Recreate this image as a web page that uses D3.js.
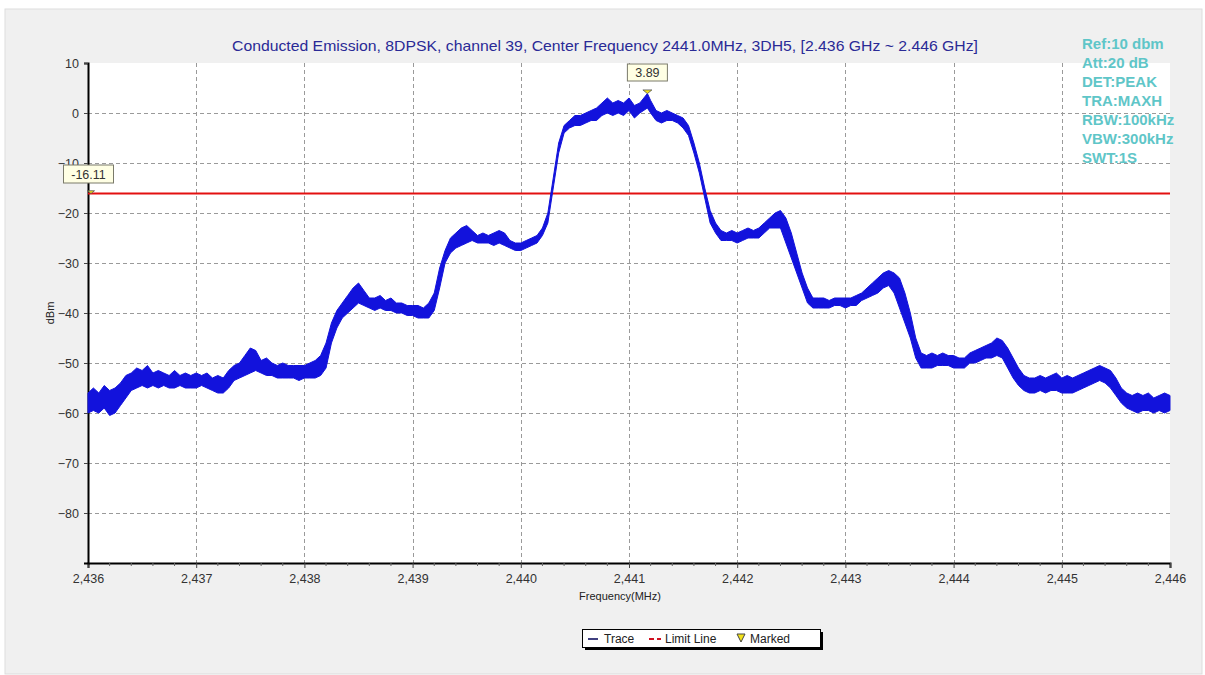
<!DOCTYPE html>
<html><head><meta charset="utf-8">
<script src="https://cdn.jsdelivr.net/npm/d3@7"></script>
<style>
html,body{margin:0;padding:0;background:#fff;}
svg text{font-family:"Liberation Sans",Arial,sans-serif;}
</style></head>
<body>
<svg id="c" width="1205" height="675"></svg>
<script>
// ---- data ----
const titleText = "Conducted Emission, 8DPSK, channel 39, Center Frequency 2441.0MHz, 3DH5, [2.436 GHz ~ 2.446 GHz]";
const infoLines = ["Ref:10 dbm","Att:20 dB","DET:PEAK","TRA:MAXH","RBW:100kHz","VBW:300kHz","SWT:1S"];
const xTicks = [2436,2437,2438,2439,2440,2441,2442,2443,2444,2445,2446];
const yTicks = [10,0,-10,-20,-30,-40,-50,-60,-70,-80];
const freq = [
 2436.00,2436.05,2436.10,2436.15,2436.20,2436.25,2436.30,2436.35,2436.40,2436.45,
 2436.50,2436.55,2436.60,2436.65,2436.70,2436.75,2436.80,2436.85,2436.90,2436.95,
 2437.00,2437.05,2437.10,2437.15,2437.20,2437.25,2437.30,2437.35,2437.40,2437.45,
 2437.50,2437.55,2437.60,2437.65,2437.70,2437.75,2437.80,2437.85,2437.90,2437.95,
 2438.00,2438.05,2438.10,2438.15,2438.20,2438.25,2438.30,2438.35,2438.40,2438.45,
 2438.50,2438.55,2438.60,2438.65,2438.70,2438.75,2438.80,2438.85,2438.90,2438.95,
 2439.00,2439.05,2439.10,2439.15,2439.20,2439.25,2439.30,2439.35,2439.40,2439.45,
 2439.50,2439.55,2439.60,2439.65,2439.70,2439.75,2439.80,2439.85,2439.90,2439.95,
 2440.00,2440.05,2440.10,2440.15,2440.20,2440.25,2440.30,2440.35,2440.40,2440.45,
 2440.50,2440.55,2440.60,2440.65,2440.70,2440.75,2440.80,2440.85,2440.90,2440.95,
 2441.00,2441.05,2441.10,2441.17,2441.20,2441.25,2441.30,2441.35,2441.40,2441.45,
 2441.50,2441.55,2441.60,2441.65,2441.70,2441.75,2441.80,2441.85,2441.90,2441.95,
 2442.00,2442.05,2442.10,2442.15,2442.20,2442.25,2442.30,2442.35,2442.40,2442.45,
 2442.50,2442.55,2442.60,2442.65,2442.70,2442.75,2442.80,2442.85,2442.90,2442.95,
 2443.00,2443.05,2443.10,2443.15,2443.20,2443.25,2443.30,2443.35,2443.40,2443.45,
 2443.50,2443.55,2443.60,2443.65,2443.70,2443.75,2443.80,2443.85,2443.90,2443.95,
 2444.00,2444.05,2444.10,2444.15,2444.20,2444.25,2444.30,2444.35,2444.40,2444.45,
 2444.50,2444.55,2444.60,2444.65,2444.70,2444.75,2444.80,2444.85,2444.90,2444.95,
 2445.00,2445.05,2445.10,2445.15,2445.20,2445.25,2445.30,2445.35,2445.40,2445.45,
 2445.50,2445.55,2445.60,2445.65,2445.70,2445.75,2445.80,2445.85,2445.90,2445.95,2446.00];
const traceHigh = [
 -56,-55,-56,-54.5,-55.5,-55,-54,-52.5,-52,-51,
 -51.5,-50.5,-52,-51.5,-52,-52.5,-51.5,-52.5,-52,-52.5,
 -52,-52.5,-52,-53,-52.5,-53,-51.5,-50.5,-50,-48.5,
 -47,-47.5,-49.5,-49,-50,-50.5,-50,-50.5,-50.5,-50.5,
 -50.5,-50,-49.5,-48.5,-46,-42,-39.5,-38,-36.5,-35,
 -34,-35.5,-37,-37,-36.5,-37.5,-37,-38,-38,-38.5,
 -38.5,-38.5,-39,-38,-36,-31,-27.5,-25,-24,-23,
 -22.5,-23.5,-24.5,-24,-24.5,-24,-23.5,-24,-25.5,-26,
 -26,-25.5,-25,-24.5,-23,-20,-13,-6,-2.5,-1.5,
 -0.5,-0.5,0,0.5,1,2,3,2,2.5,2,
 3,1.5,2,3.89,2.5,0.5,0,0.5,0,-0.5,
 -1,-2.5,-6,-10,-15,-19.5,-22,-23.5,-24,-23.5,
 -24,-23.5,-23,-23.5,-23,-22,-21,-20,-19.5,-21,
 -24,-28,-32,-35,-37,-37,-37,-37.5,-37,-37,
 -37,-37,-36.5,-36,-35,-34,-33,-32,-31.5,-32,
 -33,-36,-40,-45,-48,-48.5,-48,-48.5,-48,-48.5,
 -48.5,-49,-49,-48,-47.5,-47,-46.5,-46,-45,-45.5,
 -47,-49,-51,-52.5,-53,-53,-52.5,-53,-52.5,-52,
 -53,-52.5,-53,-52.5,-52,-51.5,-51,-50.5,-51,-51.5,
 -53,-55,-56,-56.5,-56,-56.5,-56,-57,-56.5,-56,-56.5];
const traceLow = [
 -60,-59.5,-60,-59,-60.5,-60,-58.5,-57,-55.5,-55,
 -54.5,-55,-54.5,-55,-54.5,-55,-55,-54.5,-55,-55,
 -55,-54.5,-55,-55.5,-56,-56,-55,-53.5,-53,-52.5,
 -52,-51.5,-52,-52.5,-52.5,-53,-53,-53,-53,-53.5,
 -53,-53,-53,-52.5,-51,-46,-43,-41,-40,-39,
 -38,-38.5,-39,-39.5,-39,-39.5,-39.5,-40,-40,-40.5,
 -40.5,-41,-41,-41,-39.5,-35,-30,-28,-27,-26.5,
 -26,-25.5,-26,-26,-26,-26.5,-26,-26.5,-27,-27.5,
 -27.5,-27,-26.5,-26,-24.5,-22,-15,-8,-4,-3,
 -2.5,-2.5,-2,-1.5,-1.5,-0.5,0,-0.5,0,-0.5,
 0.5,-1,0,1,0,-1.5,-2,-1.5,-1.5,-2,
 -3,-4.5,-8,-12,-17,-22,-24,-25.5,-25.5,-25.5,
 -26,-25.5,-25,-25,-25,-24,-23,-23,-23,-26,
 -29,-32,-35,-38,-39,-39,-39,-39,-38.5,-38.5,
 -39,-38.5,-38.5,-37.5,-37,-36.5,-36,-35,-34.5,-36,
 -39,-42,-45,-49,-51,-51,-51,-50.5,-50.5,-50.5,
 -51,-51,-51,-50,-50,-49.5,-49,-49,-48.5,-49,
 -51,-53,-54.5,-55.5,-56,-56,-55.5,-56,-55.5,-55.5,
 -56,-56,-56,-55.5,-55,-54.5,-54,-53.5,-54,-55,
 -56.5,-58,-59,-59.5,-60,-59.5,-59.5,-60,-59.5,-60,-59.5];
const limitValue = -16.11;
const limitFreq = 2436.0;
const peakFreq = 2441.17, peakValue = 3.89;

// ---- drawing ----
const svg = d3.select("#c");
const L = 88, R = 1170, T = 63, B = 563;
const x = d3.scaleLinear().domain([2436,2446]).range([L,R]);
const y = d3.scaleLinear().domain([-90,10]).range([B,T]);

svg.append("rect").attr("x",5).attr("y",9).attr("width",1197).attr("height",665)
  .attr("fill","#f0f0f0").attr("stroke","#dddddd");
svg.append("rect").attr("x",L).attr("y",T).attr("width",R-L).attr("height",B-T).attr("fill","#fff");

// grid
const grid = svg.append("g").attr("stroke","#9a9a9a").attr("stroke-width",1).attr("stroke-dasharray","4,3");
yTicks.filter(v=>v<10).forEach(v=>grid.append("line").attr("x1",L).attr("x2",R).attr("y1",Math.round(y(v))+0.5).attr("y2",Math.round(y(v))+0.5));
xTicks.filter(v=>v>2436&&v<2446).forEach(v=>grid.append("line").attr("y1",T).attr("y2",B).attr("x1",Math.round(x(v))+0.5).attr("x2",Math.round(x(v))+0.5));

// axes
const xAxis = d3.axisBottom(x).tickValues(xTicks).tickSize(5).tickPadding(6)
  .tickFormat(d=>d3.format(",")(d));
const gx = svg.append("g").attr("transform",`translate(0,${B})`).call(xAxis);
gx.select(".domain").attr("stroke","#000").attr("stroke-width",2);
gx.selectAll(".tick line").attr("stroke","#444");
gx.selectAll("text").attr("font-size",12.5).attr("fill","#333").attr("font-family","Liberation Sans, Arial, sans-serif");
const xMinor = x.ticks(40).filter(v=>Math.abs(v-Math.round(v))>0.01);
svg.append("g").selectAll("line").data(xMinor).join("line")
  .attr("x1",d=>x(d)).attr("x2",d=>x(d)).attr("y1",B).attr("y2",B+3).attr("stroke","#666");

const yAxis = d3.axisLeft(y).tickValues(yTicks).tickSize(4).tickPadding(5);
const gy = svg.append("g").attr("transform",`translate(${L},0)`).call(yAxis);
gy.select(".domain").attr("stroke","#000").attr("stroke-width",2);
gy.selectAll(".tick line").attr("stroke","#444");
gy.selectAll("text").attr("font-size",12.5).attr("fill","#333").attr("font-family","Liberation Sans, Arial, sans-serif");

svg.append("text").attr("transform","translate(54,313) rotate(-90)").attr("text-anchor","middle")
  .attr("font-size",11).attr("fill","#222").text("dBm");
svg.append("text").attr("x",620).attr("y",600).attr("text-anchor","middle")
  .attr("font-size",11).attr("fill","#222").text("Frequency(MHz)");

// title
svg.append("text").attr("x",605).attr("y",51).attr("text-anchor","middle")
  .attr("font-size",14.5).attr("fill","#2a2a96").attr("textLength",746).attr("lengthAdjust","spacingAndGlyphs")
  .text(titleText);

// info
svg.append("g").selectAll("text").data(infoLines).join("text")
  .attr("x",1082).attr("y",(d,i)=>49+i*19).attr("font-size",15).attr("font-weight","bold")
  .attr("fill","#5fc6c8").text(d=>d);

// limit line
svg.append("line").attr("x1",L).attr("x2",R).attr("y1",y(limitValue)).attr("y2",y(limitValue))
  .attr("stroke","#e31010").attr("stroke-width",2);

// trace (max-hold band between low and high envelopes)
const pts = freq.map((f,i)=>({f,hi:traceHigh[i],lo:traceLow[i]}));
svg.append("path").datum(pts).attr("fill","#1212dc").attr("stroke","#1212dc").attr("stroke-width",1)
  .attr("stroke-linejoin","round")
  .attr("d",d3.area().x(d=>x(d.f)).y0(d=>y(d.lo)).y1(d=>y(d.hi)));

// markers
function marker(cx,cy,size){
  svg.append("path").attr("d",`M${cx-size},${cy-size*0.8}L${cx+size},${cy-size*0.8}L${cx},${cy}Z`)
    .attr("fill","#f2e21a").attr("stroke","#555").attr("stroke-width",0.8);
}
function labelBox(cx,cy,w,h,t){
  svg.append("rect").attr("x",cx-w/2).attr("y",cy-h/2).attr("width",w).attr("height",h)
    .attr("fill","#ffffe4").attr("stroke","#7a7a6a");
  svg.append("text").attr("x",cx).attr("y",cy+4.5).attr("text-anchor","middle").attr("font-size",12.5)
    .attr("fill","#333").text(t);
}
marker(x(peakFreq),y(peakValue),4.5);
labelBox(x(peakFreq),72.5,40,17,peakValue.toFixed(2));
marker(x(limitFreq)+3,y(limitValue),3.5);
labelBox(88.5,174,50,18,limitValue.toFixed(2));

// legend
const lg = svg.append("g");
lg.append("rect").attr("x",585).attr("y",632).attr("width",238).attr("height",18).attr("fill","#000");
lg.append("rect").attr("x",582.5).attr("y",629.5).attr("width",238).attr("height",18).attr("fill","#fff").attr("stroke","#000");
lg.append("line").attr("x1",588).attr("x2",598).attr("y1",639).attr("y2",639).attr("stroke","#101060").attr("stroke-width",1.6);
lg.append("text").attr("x",604).attr("y",643).attr("font-size",12).attr("fill","#222").text("Trace");
lg.append("line").attr("x1",649).attr("x2",661).attr("y1",639).attr("y2",639).attr("stroke","#d01020").attr("stroke-width",2).attr("stroke-dasharray","5,3");
lg.append("text").attr("x",665).attr("y",643).attr("font-size",12).attr("fill","#222").text("Limit Line");
lg.append("path").attr("d","M737,634L745,634L741,642Z").attr("fill","#f2e21a").attr("stroke","#444").attr("stroke-width",1);
lg.append("text").attr("x",750).attr("y",643).attr("font-size",12).attr("fill","#222").text("Marked");
</script>
</body></html>
